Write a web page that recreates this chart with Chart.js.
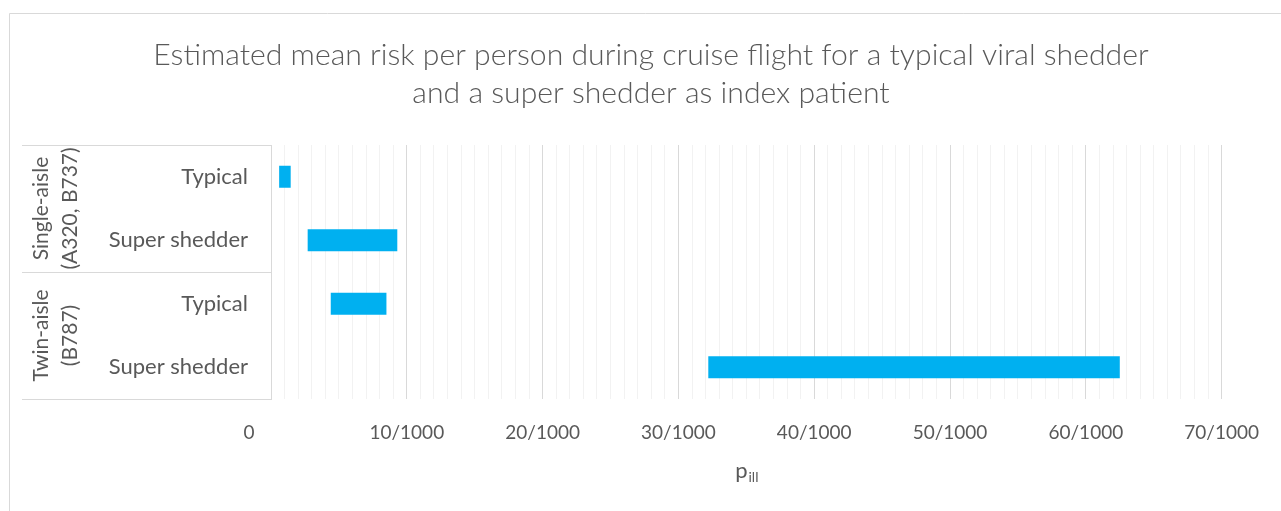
<!DOCTYPE html>
<html><head><meta charset="utf-8">
<script src="https://cdn.jsdelivr.net/npm/chart.js@4"></script>
<style>html,body{margin:0;padding:0;background:#fff;}#wrap{width:1281px;height:511px;position:relative;}</style>
</head><body><div id="wrap"><canvas id="c" width="1281" height="511"></canvas></div>
<script>
const titleLines = ["Estimated mean risk per person during cruise flight for a typical viral shedder", "and a super shedder as index patient"];
const categories = ["Typical", "Super shedder", "Typical", "Super shedder"];
const groupNames = [["Single-aisle", "(A320, B737)"], ["Twin-aisle", "(B787)"]];
const groupSizes = [2, 2];
// risk range per person, in units of 1/1000
const riskLow = [0.6, 2.7, 4.4, 32.2];
const riskHigh = [1.45, 9.3, 8.5, 62.5];
const xTickLabels = ["0", "10/1000", "20/1000", "30/1000", "40/1000", "50/1000", "60/1000", "70/1000"];
const xTitleMain = "p";
const xTitleSub = "ill";

const TXT = '#595959';
const FONT = 'Lato, "Open Sans", sans-serif';

const decorPlugin = {
  id: 'decor',
  beforeDraw(chart) {
    const ctx = chart.ctx;
    ctx.save();
    ctx.fillStyle = '#fff';
    ctx.fillRect(0, 0, chart.width, chart.height);
    ctx.strokeStyle = '#d9d9d9';
    ctx.lineWidth = 1;
    ctx.beginPath();
    ctx.moveTo(9.5, chart.height + 5);
    ctx.lineTo(9.5, 13.5);
    ctx.lineTo(chart.width + 5, 13.5);
    ctx.stroke();
    ctx.restore();
  },
  afterDraw(chart) {
    const ctx = chart.ctx, ys = chart.scales.y, ca = chart.chartArea;
    const step = ys.getPixelForValue(1) - ys.getPixelForValue(0);
    const x0 = 22;
    ctx.save();
    ctx.strokeStyle = '#d9d9d9';
    ctx.lineWidth = 1;
    let start = 0;
    const bounds = [];
    groupSizes.forEach((n, g) => {
      const top = ys.getPixelForValue(start) - step / 2;
      const bot = ys.getPixelForValue(start + n - 1) + step / 2;
      bounds.push([top, bot]);
      start += n;
    });
    const ylines = [bounds[0][0]].concat(bounds.map(b => b[1]));
    ctx.beginPath();
    ylines.forEach(y => {
      const yy = Math.round(y) + 0.5;
      ctx.moveTo(x0, yy);
      ctx.lineTo(ca.left, yy);
    });
    ctx.stroke();
    ctx.fillStyle = TXT;
    ctx.font = '21px ' + FONT;
    ctx.textAlign = 'center';
    ctx.textBaseline = 'middle';
    bounds.forEach((b, g) => {
      const yc = (b[0] + b[1]) / 2;
      groupNames[g].forEach((line, i) => {
        ctx.save();
        ctx.translate(x0 + 19 + i * 29, yc);
        ctx.rotate(-Math.PI / 2);
        ctx.fillText(line, 0, 0);
        ctx.restore();
      });
    });
    // x axis title with subscript
    const cx = (ca.left + ca.right) / 2;
    const by = 478;
    ctx.textBaseline = 'alphabetic';
    ctx.textAlign = 'left';
    ctx.font = '22px ' + FONT;
    const w1 = ctx.measureText(xTitleMain).width;
    ctx.font = '14px ' + FONT;
    const w2 = ctx.measureText(xTitleSub).width;
    const sx = cx - (w1 + w2) / 2;
    ctx.font = '22px ' + FONT;
    ctx.fillText(xTitleMain, sx, by);
    ctx.font = '14px ' + FONT;
    ctx.fillText(xTitleSub, sx + w1 + 1, by + 4);
    ctx.restore();
  }
};

new Chart(document.getElementById('c'), {
  type: 'bar',
  data: {
    labels: categories,
    datasets: [{
      data: riskLow.map((l, i) => [l, riskHigh[i]]),
      backgroundColor: '#00B0F0',
      borderWidth: 0,
      barPercentage: 0.35,
      categoryPercentage: 1
    }]
  },
  options: {
    indexAxis: 'y',
    responsive: false,
    animation: false,
    devicePixelRatio: 1,
    layout: { padding: { left: 80, right: 59, top: 0, bottom: 0 } },
    plugins: {
      legend: { display: false },
      tooltip: { enabled: false },
      title: {
        display: true,
        text: titleLines,
        color: TXT,
        font: { family: FONT, size: 30.2, weight: '300', lineHeight: '38px' },
        padding: { top: 36, bottom: 33 }
      }
    },
    scales: {
      x: {
        type: 'linear', min: 0, max: 70,
        ticks: {
          stepSize: 1, autoSkip: false, maxRotation: 0, minRotation: 0,
          color: TXT, font: { family: FONT, size: 19 }, padding: 22,
          callback: (v) => (v % 10 === 0 ? (v === 0 ? xTickLabels[0] + '         ' : xTickLabels[v / 10]) : '')
        },
        grid: {
          drawTicks: false,
          color: (ctx) => (ctx.tick && ctx.tick.value % 10 === 0 ? '#d9d9d9' : '#f2f2f2'),
          lineWidth: 1
        },
        border: { display: false },
        afterFit: (s) => { s.height = 112; }
      },
      y: {
        type: 'category',
        offset: true,
        ticks: { color: TXT, font: { family: FONT, size: 22 }, padding: 23 },
        grid: { display: false, drawTicks: false },
        border: { display: true, color: '#d9d9d9' },
        afterFit: (s) => { s.width = 191; }
      }
    }
  },
  plugins: [decorPlugin]
});
</script>
</body></html>
